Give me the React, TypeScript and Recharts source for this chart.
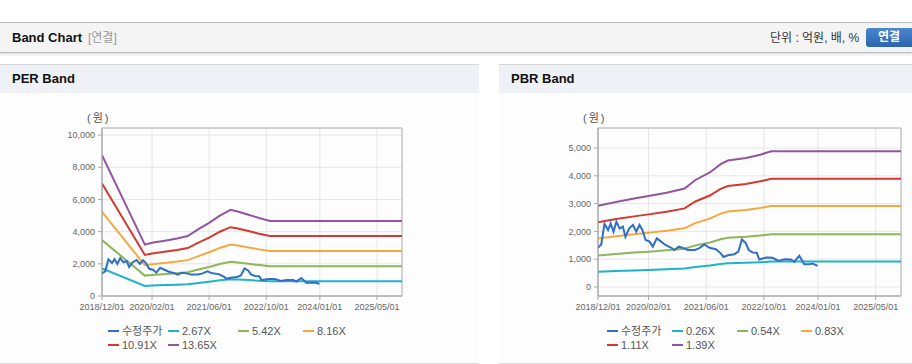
import { CartesianGrid, Line, LineChart, ReferenceArea, XAxis, YAxis } from 'recharts';

const FONT = '"Liberation Sans", Arial, "Noto Sans CJK KR", sans-serif';

// x values are months counted from 2018/12/01
const tickMonths = [0, 14, 30, 46, 61, 77];
const tickLabels = ['2018/12/01', '2020/02/01', '2021/06/01', '2022/10/01', '2024/01/01', '2025/05/01'];

const priceMonths = [
  0, 0.9, 1.8, 2.8, 3.5, 4.3, 5.1, 6.0, 6.9, 7.6, 8.6, 9.7, 10.6, 11.5, 12.3, 13.2, 14.3, 15.2,
  16.3, 17.5, 18.7, 20.3, 21.2, 22.4, 24.0, 24.9, 26.8, 28.0, 29.5, 30.9, 32.7, 34.1, 34.8, 36.0,
  37.8, 38.9, 39.9, 40.9, 41.8, 42.9, 44.0, 44.7, 46.6, 48.4, 50.1, 51.7, 53.5, 54.4, 55.8, 57.2,
  58.6, 59.5, 60.9,
];
const priceValues = [
  1410, 1530, 2270, 2050, 2290, 1990, 2350, 2100, 2170, 1800, 2100, 2230, 1990, 2230, 2050, 1690,
  1630, 1450, 1750, 1630, 1510, 1410, 1330, 1450, 1390, 1330, 1330, 1390, 1530, 1410, 1360, 1200,
  1080, 1140, 1180, 1270, 1710, 1590, 1330, 1240, 1230, 990, 1060, 1050, 940, 1000, 990, 900, 1120,
  820, 820, 840, 760,
];

const perMonths = [0, 12, 14, 18, 21, 24, 27, 30, 33, 36, 38, 41, 44, 47, 84];
const per267 = [1711, 625, 646, 676, 700, 729, 812, 889, 977, 1047, 1028, 988, 948, 913, 913];
const per542 = [3474, 1268, 1312, 1371, 1420, 1480, 1648, 1805, 1984, 2125, 2087, 2005, 1924, 1854, 1854];
const per816 = [5231, 1909, 1975, 2064, 2138, 2228, 2481, 2717, 2987, 3199, 3142, 3019, 2897, 2791, 2791];
const per1091 = [6993, 2553, 2640, 2760, 2858, 2978, 3317, 3633, 3993, 4277, 4200, 4037, 3873, 3731, 3731];
const per1365 = [8750, 3194, 3303, 3453, 3576, 3726, 4150, 4545, 4996, 5351, 5255, 5051, 4846, 4668, 4668];

const pbrMonths = [0, 5, 10, 14, 19, 24, 27, 31, 34, 36, 41, 45, 48, 84];
const pbr026 = [546, 572, 595, 612, 634, 662, 720, 771, 827, 851, 868, 890, 913, 913];
const pbr054 = [1135, 1189, 1236, 1271, 1317, 1375, 1496, 1601, 1717, 1767, 1803, 1849, 1896, 1896];
const pbr083 = [1744, 1827, 1899, 1953, 2024, 2114, 2299, 2460, 2639, 2717, 2771, 2842, 2914, 2914];
const pbr111 = [2332, 2443, 2540, 2612, 2707, 2827, 3075, 3290, 3530, 3633, 3705, 3801, 3897, 3897];
const pbr139 = [2920, 3060, 3180, 3270, 3390, 3540, 3850, 4120, 4420, 4550, 4640, 4760, 4880, 4880];

const perTicks = [0, 2000, 4000, 6000, 8000, 10000];
const pbrTicks = [0, 1000, 2000, 3000, 4000, 5000];

const COLORS = {
  price: '#2f6fc6',
  c1: '#1fb3c7',
  c2: '#8db65a',
  c3: '#f2aa3e',
  c4: '#d23a2f',
  c5: '#9354a0',
};

type Series = { name: string; color: string; months: number[]; values: number[] };

const zip = (months: number[], values: number[]) => months.map((m, i) => ({ m, v: values[i] }));

const perSeries: Series[] = [
  { name: '수정주가', color: COLORS.price, months: priceMonths, values: priceValues },
  { name: '2.67X', color: COLORS.c1, months: perMonths, values: per267 },
  { name: '5.42X', color: COLORS.c2, months: perMonths, values: per542 },
  { name: '8.16X', color: COLORS.c3, months: perMonths, values: per816 },
  { name: '10.91X', color: COLORS.c4, months: perMonths, values: per1091 },
  { name: '13.65X', color: COLORS.c5, months: perMonths, values: per1365 },
];

const pbrSeries: Series[] = [
  { name: '수정주가', color: COLORS.price, months: priceMonths, values: priceValues },
  { name: '0.26X', color: COLORS.c1, months: pbrMonths, values: pbr026 },
  { name: '0.54X', color: COLORS.c2, months: pbrMonths, values: pbr054 },
  { name: '0.83X', color: COLORS.c3, months: pbrMonths, values: pbr083 },
  { name: '1.11X', color: COLORS.c4, months: pbrMonths, values: pbr111 },
  { name: '1.39X', color: COLORS.c5, months: pbrMonths, values: pbr139 },
];

function BandChart(props: {
  width: number;
  axisWidth: number;
  marginRight: number;
  domain: [number, number];
  ticks: number[];
  series: Series[];
}) {
  const { width, axisWidth, marginRight, domain, ticks, series } = props;
  const tickStyle = { fill: '#666', fontSize: 9, fontFamily: FONT };
  // draw bands first, price on top
  const ordered = [...series.slice(1), series[0]];
  return (
    <LineChart
      width={width}
      height={223}
      margin={{ top: 35, right: marginRight, bottom: 0, left: 0 }}
    >
      <CartesianGrid stroke="#e6e6e6" />
      <XAxis
        dataKey="m"
        type="number"
        domain={[0, 84]}
        ticks={tickMonths}
        tickFormatter={(v: number) => tickLabels[tickMonths.indexOf(v)] ?? ''}
        tick={tickStyle}
        axisLine={{ stroke: '#a8a8a8' }}
        tickLine={{ stroke: '#a8a8a8' }}
        tickSize={4}
        tickMargin={4}
        height={20}
        interval={0}
        allowDataOverflow
      />
      <YAxis
        type="number"
        domain={domain}
        ticks={ticks}
        tickFormatter={(v: number) => v.toLocaleString('en-US')}
        tick={tickStyle}
        axisLine={{ stroke: '#a8a8a8' }}
        tickLine={{ stroke: '#a8a8a8' }}
        tickSize={4}
        tickMargin={3}
        width={axisWidth}
        interval={0}
        allowDataOverflow
      />
      <ReferenceArea x1={0} x2={84} y1={domain[0]} y2={domain[1]} fill="none" stroke="#b4b4b4" />
      {ordered.map((s) => (
        <Line
          key={s.name}
          data={zip(s.months, s.values)}
          dataKey="v"
          name={s.name}
          type="linear"
          stroke={s.color}
          strokeWidth={2}
          dot={false}
          activeDot={false}
          isAnimationActive={false}
        />
      ))}
    </LineChart>
  );
}

function Legend({ series, cols }: { series: Series[]; cols: number[] }) {
  return (
    <div
      style={{
        display: 'grid',
        gridTemplateColumns: cols.map((c) => `${c}px`).join(' '),
        lineHeight: '14px',
        fontSize: 11,
        color: '#555',
        fontFamily: FONT,
      }}
    >
      {series.map((s) => (
        <div key={s.name} style={{ display: 'flex', alignItems: 'center', whiteSpace: 'nowrap' }}>
          <span style={{ display: 'inline-block', width: 11, height: 2, background: s.color, marginRight: 3 }} />
          <span>{s.name}</span>
        </div>
      ))}
    </div>
  );
}

function Panel(props: {
  left: number;
  width: number;
  title: string;
  children: React.ReactNode;
}) {
  const { left, width, title, children } = props;
  return (
    <div style={{ position: 'absolute', left, top: 64, width, height: 300 }}>
      <div
        style={{
          height: 28,
          borderTop: '1px solid #d6d6d6',
          background: '#eef1f6',
          fontWeight: 'bold',
          fontSize: 13,
          color: '#111',
          lineHeight: '28px',
          paddingLeft: 12,
          fontFamily: FONT,
        }}
      >
        {title}
      </div>
      <div
        style={{
          position: 'absolute',
          top: 29,
          left: 0,
          width,
          height: 270,
          background: '#fdfdfd',
          borderBottom: '1px solid #dcdcdc',
        }}
      >
        {children}
      </div>
    </div>
  );
}

export default function App() {
  return (
    <div
      style={{
        position: 'absolute',
        left: 0,
        top: 0,
        width: 912,
        height: 364,
        background: '#fff',
        overflow: 'hidden',
        fontFamily: FONT,
      }}
    >
      {/* top header bar */}
      <div
        style={{
          position: 'absolute',
          left: 0,
          top: 22,
          width: 912,
          height: 29,
          borderTop: '1px solid #bdbdbd',
          borderBottom: '1px solid #b9b9b9',
          background: '#f4f4f4',
          boxShadow: '0 2px 2px rgba(0,0,0,0.10)',
        }}
      >
        <span
          style={{
            position: 'absolute',
            left: 12,
            top: 0,
            lineHeight: '30px',
            fontSize: 13,
            fontWeight: 'bold',
            color: '#111',
          }}
        >
          Band Chart
        </span>
        <span style={{ position: 'absolute', left: 88, top: 0, lineHeight: '30px', fontSize: 12, color: '#999' }}>
          [연결]
        </span>
        <span style={{ position: 'absolute', left: 770, top: 0, lineHeight: '31px', fontSize: 12, color: '#333' }}>
          단위 : 억원, 배, %
        </span>
        <div
          style={{
            position: 'absolute',
            left: 866,
            top: 5,
            width: 52,
            height: 19,
            borderRadius: 3,
            background: 'linear-gradient(#4a87cf, #2b65ad)',
            color: '#fff',
            fontWeight: 'bold',
            fontSize: 12,
            lineHeight: '19px',
            paddingLeft: 12,
            boxSizing: 'border-box',
          }}
        >
          연결
        </div>
      </div>

      <Panel left={0} width={479} title="PER Band">
        <div style={{ position: 'absolute', left: 87, top: 16, fontSize: 11, color: '#555', letterSpacing: 2 }}>
          (원)
        </div>
        <div style={{ position: 'absolute', left: 0, top: 0 }}>
          <BandChart
            width={479}
            axisWidth={102}
            marginRight={77}
            domain={[0, 10440]}
            ticks={perTicks}
            series={perSeries}
          />
        </div>
        <div style={{ position: 'absolute', left: 108, top: 231 }}>
          <Legend series={perSeries} cols={[60, 70, 65, 65]} />
        </div>
      </Panel>

      <Panel left={499} width={413} title="PBR Band">
        <div style={{ position: 'absolute', left: 84, top: 16, fontSize: 11, color: '#555', letterSpacing: 2 }}>
          (원)
        </div>
        <div style={{ position: 'absolute', left: 0, top: 0 }}>
          <BandChart
            width={413}
            axisWidth={99}
            marginRight={11}
            domain={[-325, 5720]}
            ticks={pbrTicks}
            series={pbrSeries}
          />
        </div>
        <div style={{ position: 'absolute', left: 108, top: 231 }}>
          <Legend series={pbrSeries} cols={[65, 65, 64, 64]} />
        </div>
      </Panel>
    </div>
  );
}
